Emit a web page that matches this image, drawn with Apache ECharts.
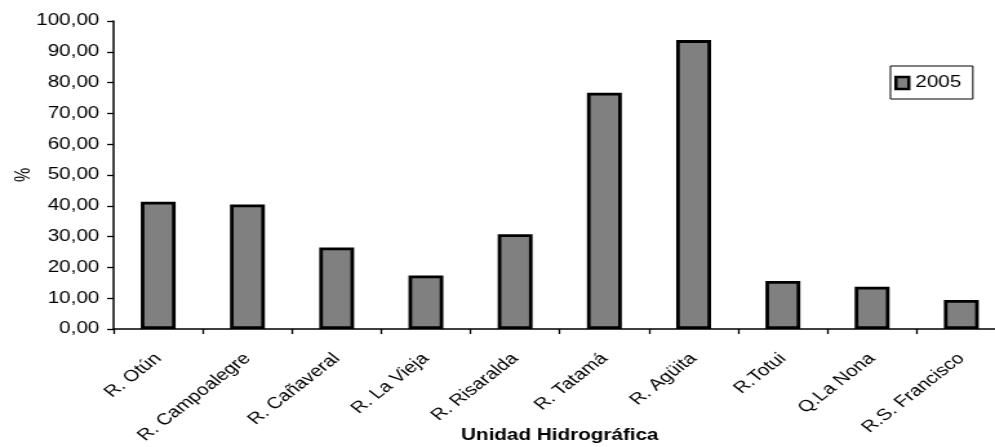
<!DOCTYPE html>
<html>
<head>
<meta charset="utf-8">
<script src="https://cdn.jsdelivr.net/npm/echarts@6/dist/echarts.min.js"></script>
<style>
  html, body { margin: 0; padding: 0; background: #fff; overflow: hidden; }
  /* The chart is laid out narrow and widened horizontally, like the original exported figure */
  #chart { width: 771px; height: 447px; transform: scaleX(1.2905); transform-origin: 0 0; }
</style>
</head>
<body>
<div id="chart"></div>
<script>
// Unidades hidrográficas
const categories = [
  'R. Otún', 'R. Campoalegre', 'R. Cañaveral', 'R. La Vieja', 'R. Risaralda',
  'R. Tatamá', 'R. Agüita', 'R.Totui', 'Q.La Nona', 'R.S. Francisco'
];
// Porcentaje, año 2005
const seriesName = '2005';
const values2005 = [41.3, 40.4, 26.5, 17.4, 30.8, 76.7, 93.8, 15.6, 13.7, 9.4];

const yMin = 0, yMax = 100, yStep = 10;
const yAxisTitle = '%';
const xAxisTitle = 'Unidad Hidrográfica';

const FONT = '"Liberation Sans", Arial, sans-serif';
const GRID = { left: 88, right: -8.5, top: 21, bottom: 118 };
const chart = echarts.init(document.getElementById('chart'));

chart.setOption({
  animation: false,
  backgroundColor: '#ffffff',
  textStyle: { fontFamily: FONT, color: '#000' },
  grid: Object.assign({ containLabel: false, outerBoundsMode: 'none' }, GRID),
  legend: {
    data: [seriesName],
    left: 690, top: 66,
    orient: 'vertical',
    padding: [9, 9, 8, 3],
    borderColor: '#000', borderWidth: 1,
    backgroundColor: '#fff',
    itemWidth: 10, itemHeight: 12,
    icon: 'rect',
    itemStyle: { color: '#808080', borderColor: '#000', borderWidth: 2.5 },
    textStyle: { fontFamily: FONT, fontSize: 16, color: '#000' },
    selectedMode: false
  },
  xAxis: {
    type: 'category',
    data: categories,
    boundaryGap: true,
    axisLine: { lineStyle: { color: '#000', width: 1.5 } },
    axisTick: { show: true, length: 5, lineStyle: { color: '#000', width: 1.3 } },
    axisLabel: { rotate: 45, margin: 27, fontSize: 16, color: '#000', fontFamily: FONT, interval: 0 }
  },
  yAxis: {
    type: 'value',
    min: yMin, max: yMax, interval: yStep,
    splitLine: { show: false },
    axisLine: { show: true, lineStyle: { color: '#000', width: 1.5 } },
    axisTick: { show: true, length: 5, lineStyle: { color: '#000', width: 1.3 } },
    axisLabel: {
      margin: 11, fontSize: 16, color: '#000', fontFamily: FONT,
      formatter: v => v.toFixed(2).replace('.', ',')
    }
  },
  graphic: [
    // Value axis title, rotated, left of the tick labels
    {
      type: 'text',
      x: 19,
      y: (GRID.top + 447 - GRID.bottom) / 2,
      rotation: Math.PI / 2,
      style: {
        text: yAxisTitle,
        textAlign: 'center',
        textVerticalAlign: 'middle',
        font: '16px ' + FONT,
        fill: '#000'
      }
    },
    // Category axis title, centred under the plot area and below the slanted labels
    {
      type: 'text',
      x: (GRID.left + 771 - GRID.right) / 2,
      y: 436,
      style: {
        text: xAxisTitle,
        textAlign: 'center',
        textVerticalAlign: 'middle',
        font: 'bold 16px ' + FONT,
        fill: '#000'
      }
    }
  ],
  series: [{
    name: seriesName,
    type: 'bar',
    data: values2005,
    barWidth: 27,
    itemStyle: { color: '#808080', borderColor: '#000', borderWidth: 2.8 }
  }]
});
</script>
</body>
</html>
